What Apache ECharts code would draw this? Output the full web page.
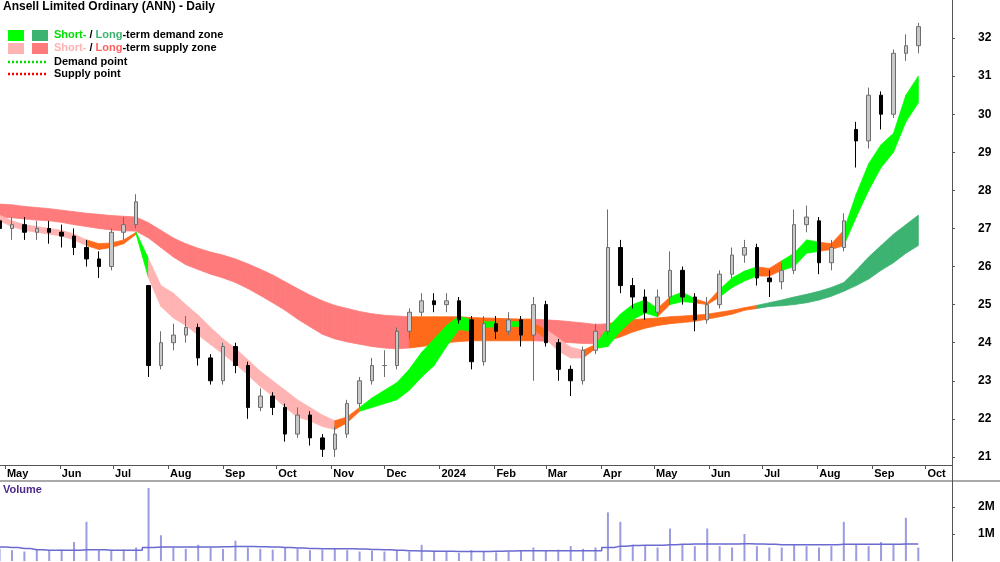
<!DOCTYPE html>
<html><head><meta charset="utf-8">
<script src="https://cdn.jsdelivr.net/npm/echarts@6/dist/echarts.min.js"></script>
<style>html,body{margin:0;padding:0;background:#fff}#c{width:1000px;height:562px}</style>
</head><body><div id="c"></div>
<script>
// weekly candles: [open, close, low, high]
const ohlc = [
[27.2,27.0,26.8,27.4],[27.0,27.1,26.7,27.3],[27.1,26.9,26.7,27.3],[26.9,27.0,26.7,27.2],[27.0,26.9,26.6,27.2],
[26.9,26.8,26.5,27.1],[26.8,26.5,26.3,27.0],[26.5,26.2,26.0,26.7],[26.2,26.0,25.7,26.4],[26.0,26.9,25.9,27.0],
[26.9,27.1,26.7,27.3],[27.1,27.7,27.0,27.9],[25.5,23.4,23.1,25.5],[23.4,24.0,23.3,24.3],[24.0,24.2,23.8,24.5],
[24.2,24.4,24.0,24.7],[24.4,23.6,23.4,24.5],[23.6,23.0,22.9,23.7],[23.0,23.9,22.9,24.0],[23.9,23.4,23.2,24.0],
[23.4,22.3,22.0,23.5],[22.3,22.6,22.2,22.8],[22.6,22.3,22.1,22.7],[22.3,21.6,21.4,22.4],[21.6,22.1,21.5,22.3],
[22.1,21.5,21.3,22.2],[21.5,21.2,21.0,21.6],[21.2,21.6,21.0,21.8],[21.6,22.4,21.5,22.5],[22.4,23.0,22.3,23.1],
[23.0,23.4,22.9,23.6],[23.4,23.4,23.1,23.8],[23.4,24.3,23.3,24.4],[24.3,24.8,24.1,24.9],[24.8,25.1,24.7,25.3],
[25.1,25.0,24.8,25.3],[25.0,25.1,24.8,25.3],[25.1,24.6,24.5,25.2],[24.6,23.5,23.3,24.7],[23.5,24.5,23.4,24.7],
[24.5,24.3,24.1,24.7],[24.3,24.6,24.2,24.8],[24.6,24.2,23.9,24.7],[24.2,25.0,23.0,25.2],[25.0,24.0,23.9,25.1],
[24.0,23.3,23.0,24.1],[23.3,23.0,22.6,23.4],[23.0,23.8,22.9,23.9],[23.8,24.3,23.7,24.5],[24.3,26.5,24.2,27.5],
[26.5,25.5,25.3,26.7],[25.5,25.2,24.9,25.7],[25.2,24.8,24.6,25.4],[24.8,25.2,24.7,25.4],[25.2,25.9,25.0,26.4],
[25.9,25.2,25.0,26.0],[25.2,24.6,24.3,25.3],[24.6,25.0,24.5,25.2],[25.0,25.8,24.9,25.9],[25.8,26.3,25.7,26.5],
[26.3,26.5,26.1,26.7],[26.5,25.7,25.5,26.6],[25.7,25.6,25.2,25.9],[25.6,25.9,25.4,26.1],[25.9,27.1,25.8,27.5],
[27.1,27.3,26.9,27.6],[27.2,26.1,25.8,27.3],[26.1,26.5,25.9,26.7],[26.5,27.2,26.4,27.4],[29.6,29.3,28.6,29.8],
[29.3,30.5,29.1,30.7],[30.5,30.0,29.6,30.6],[30.0,31.6,29.9,31.7],[31.6,31.8,31.4,32.1],[31.8,32.3,31.6,32.4]
];
// long-term zone [high, low]
const longHi = [27.64,27.62,27.58,27.55,27.52,27.48,27.44,27.4,27.37,27.34,27.32,27.3,27.15,26.95,26.75,26.6,26.48,26.38,26.3,26.2,26.07,25.93,25.78,25.6,25.42,25.25,25.1,24.98,24.9,24.82,24.76,24.72,24.7,24.68,24.68,24.68,24.68,24.68,24.66,24.65,24.64,24.63,24.62,24.62,24.6,24.58,24.55,24.52,24.48,24.5,24.55,24.6,24.63,24.65,24.68,24.7,24.72,24.75,24.8,24.85,24.92,24.98,25.05,25.12,25.2,25.27,25.35,25.45,25.58,25.9,26.25,26.55,26.85,27.1,27.35];
const longLo = [27.3,27.28,27.25,27.22,27.2,27.16,27.1,27.05,27.0,26.96,26.94,26.93,26.75,26.5,26.25,26.05,25.92,25.8,25.7,25.58,25.42,25.24,25.05,24.85,24.62,24.42,24.22,24.1,24.02,23.96,23.9,23.86,23.84,23.86,23.9,23.95,24.0,24.03,24.05,24.05,24.05,24.05,24.05,24.05,24.04,24.02,24.0,23.98,23.97,24.05,24.15,24.28,24.38,24.45,24.5,24.53,24.56,24.62,24.68,24.75,24.85,24.9,24.95,24.97,25.0,25.05,25.12,25.22,25.35,25.5,25.67,25.9,26.1,26.35,26.55];
const longState = "RRRRRRRRRRRRRRRRRRRRRRRRRRRRRRRRROOOOOOOOOORRRRRROOOOOOOOOOOODDDDDDDDDDDDDD";
// short-term zone [high, low]
const shortHi = [27.35,27.2,27.1,27.05,27.0,26.95,26.85,26.7,26.6,26.62,26.7,26.9,26.2,25.5,25.3,25.0,24.72,24.4,24.1,23.85,23.55,23.25,23.0,22.75,22.5,22.3,22.1,21.95,22.05,22.3,22.55,22.75,22.95,23.3,23.75,24.1,24.45,24.7,24.6,24.55,24.55,24.55,24.55,24.5,24.35,24.12,23.88,23.8,23.95,24.4,24.75,25.0,25.12,24.9,25.2,25.33,25.15,25.05,25.4,25.7,25.88,25.99,25.95,26.15,26.35,26.7,26.64,26.6,26.95,27.9,28.7,29.2,29.5,30.5,31.0];
const shortLo = [27.2,27.05,26.95,26.9,26.85,26.8,26.7,26.55,26.45,26.5,26.6,26.85,25.7,24.95,24.65,24.45,24.2,23.95,23.7,23.45,23.15,22.85,22.6,22.3,22.05,21.95,21.8,21.72,21.9,22.2,22.3,22.4,22.5,22.75,23.1,23.4,23.9,24.35,24.3,24.4,24.42,24.43,24.42,24.35,24.1,23.78,23.6,23.6,23.85,23.9,24.3,24.6,24.78,24.68,25.0,25.08,25.05,25.0,25.2,25.45,25.62,25.75,25.75,25.9,26.0,26.35,26.4,26.45,26.55,27.3,28.0,28.6,29.0,29.8,30.3];
const shortState = "PPPPPPPOOOOGPPPPPPPPPPPPPPPOOGGGGGGGGGOGOGOOPPPOGGGGGOGGOOGGGOOGGGOOGGGGGGG";
// weekly volume and its average (millions)
const volume = [0.45,0.4,0.35,0.45,0.4,0.42,0.7,1.45,0.4,0.38,0.42,0.5,2.7,0.95,0.5,0.45,0.6,0.5,0.45,0.75,0.5,0.45,0.42,0.48,0.45,0.4,0.42,0.45,0.4,0.35,0.38,0.35,0.4,0.35,0.6,0.38,0.35,0.3,0.4,0.35,0.32,0.35,0.38,0.5,0.4,0.42,0.55,0.45,0.5,1.8,1.45,0.6,0.55,0.5,1.2,0.6,0.55,1.2,0.55,0.5,1.0,0.55,0.5,0.5,0.6,0.55,0.5,0.55,1.45,0.6,0.55,0.7,0.6,1.6,0.5];
const volAvg = [0.52,0.5,0.46,0.42,0.4,0.4,0.4,0.42,0.42,0.4,0.4,0.4,0.5,0.52,0.52,0.52,0.52,0.52,0.53,0.54,0.54,0.53,0.52,0.5,0.48,0.46,0.45,0.45,0.45,0.44,0.43,0.42,0.4,0.38,0.37,0.36,0.36,0.35,0.35,0.35,0.36,0.37,0.38,0.38,0.38,0.38,0.38,0.38,0.38,0.5,0.55,0.57,0.58,0.58,0.6,0.62,0.63,0.63,0.63,0.63,0.64,0.63,0.62,0.6,0.6,0.6,0.6,0.6,0.62,0.62,0.62,0.62,0.62,0.63,0.63];
const monthTicks = [[2023,4],[2023,5],[2023,6],[2023,7],[2023,8],[2023,9],[2023,10],[2023,11],[2024,0],[2024,1],[2024,2],[2024,3],[2024,4],[2024,5],[2024,6],[2024,7],[2024,8],[2024,9]];
const monthNames = ['2024','Feb','Mar','Apr','May','Jun','Jul','Aug','Sep','Oct','Nov','Dec'];
const priceTicks = [21,22,23,24,25,26,27,28,29,30,31,32];
const volTicks = [1,2];

const DAY = 864e5;
const start = Date.UTC(2023,3,28);
const dates = ohlc.map((_, i) => start + i*7*DAY);
const tmin = Date.UTC(2023,3,28,6), tmax = Date.UTC(2024,9,16);
const tickVals = monthTicks.map(m=>Date.UTC(m[0],m[1],1));
const colors = {R:'#ff7b7b',O:'#ff6a1a',D:'#3cb371',P:'#ffb3b3',G:'#00ff00'};

function bandData(hi, lo, st){
  const out=[];
  for(let i=0;i<hi.length-1;i++) out.push([dates[i],lo[i],hi[i],dates[i+1],lo[i+1],hi[i+1],'RODPG'.indexOf(st[i])]);
  return out;
}
function renderBand(params, api){
  const p=[api.coord([api.value(0),api.value(1)]),api.coord([api.value(3),api.value(4)]),
           api.coord([api.value(3),api.value(5)]),api.coord([api.value(0),api.value(2)])];
  const c=colors['RODPG'[api.value(6)]];
  return {type:'polygon',shape:{points:p},style:{fill:c,stroke:c,lineWidth:0.8}};
}
const chart = echarts.init(document.getElementById('c'));
const ax = {type:'value',min:tmin,max:tmax,axisLine:{show:false},axisTick:{show:false},axisLabel:{show:false},splitLine:{show:false}};
const lblStyle = {color:'#000',fontWeight:'bold',fontSize:12,fontFamily:'Liberation Sans'};
chart.setOption({
  animation:false,
  grid:[{left:0,right:48,top:0,height:495},{left:0,right:48,top:465,height:0},{left:0,right:48,top:481,height:80}],
  xAxis:[Object.assign({gridIndex:0},ax),
    {gridIndex:1,type:'value',min:tmin,max:tmax,splitLine:{show:false},
     axisLine:{show:true,lineStyle:{color:'#555'}},
     axisTick:{show:true,length:4,lineStyle:{color:'#555'},customValues:tickVals},
     axisLabel:{show:true,customValues:tickVals,align:'left',margin:3,padding:[0,0,0,2],
       color:'#000',fontWeight:'bold',fontSize:11,fontFamily:'Liberation Sans',
       formatter:v=>monthNames[new Date(v).getUTCMonth()]}},
    Object.assign({gridIndex:2},ax)],
  yAxis:[{gridIndex:0,type:'value',position:'right',offset:0,min:20,max:33,splitLine:{show:false},
     axisLine:{show:true,lineStyle:{color:'#555'}},axisTick:{show:true,length:3,lineStyle:{color:'#555'},customValues:priceTicks},
     axisLabel:Object.assign({margin:26,customValues:priceTicks},lblStyle)},
    {gridIndex:1,type:'value',show:false},
    {gridIndex:2,type:'value',position:'right',offset:0,min:0,max:2.96,splitLine:{show:false},
     axisLine:{show:true,lineStyle:{color:'#555'}},axisTick:{show:true,length:3,lineStyle:{color:'#555'},customValues:volTicks},
     axisLabel:Object.assign({margin:26,customValues:volTicks,formatter:v=>v+'M'},lblStyle)}],
  series:[
    {type:'custom',xAxisIndex:0,yAxisIndex:0,renderItem:renderBand,data:bandData(longHi,longLo,longState),encode:{x:[0,3],y:[1,2,4,5]},z:1},
    {type:'custom',xAxisIndex:0,yAxisIndex:0,renderItem:renderBand,data:bandData(shortHi,shortLo,shortState),encode:{x:[0,3],y:[1,2,4,5]},z:2},
    {type:'candlestick',xAxisIndex:0,yAxisIndex:0,barWidth:4,z:3,
     data:ohlc.map((d,i)=>[dates[i],d[0],d[1],d[2],d[3]]),
     itemStyle:{color:'#c8c8c8',color0:'#000',borderColor:'#6e6e6e',borderColor0:'#000',borderWidth:1}},
    {type:'bar',xAxisIndex:2,yAxisIndex:2,barWidth:2,data:volume.map((v,i)=>[dates[i],v]),itemStyle:{color:'#9b9be0'}},
    {type:'line',xAxisIndex:2,yAxisIndex:2,showSymbol:false,step:'middle',data:volAvg.map((v,i)=>[dates[i],v]),lineStyle:{color:'#6a6ad0',width:1.5}}
  ],
  graphic:[
    {type:'text',x:3,y:1,style:{text:'Ansell Limited Ordinary (ANN) - Daily',font:'bold 12px "Liberation Sans"',fill:'#000'}},
    {type:'rect',shape:{x:8,y:30,width:16,height:11},style:{fill:'#00ff00'}},
    {type:'rect',shape:{x:32,y:30,width:16,height:11},style:{fill:'#3cb371'}},
    {type:'rect',shape:{x:8,y:43,width:16,height:11},style:{fill:'#ffb3b3'}},
    {type:'rect',shape:{x:32,y:43,width:16,height:11},style:{fill:'#ff7b7b'}},
    {type:'text',x:54,y:29,style:{text:'{g|Short-} / {d|Long}-term demand zone',font:'bold 11px "Liberation Sans"',fill:'#000',
      rich:{g:{fill:'#00e000',font:'bold 11px "Liberation Sans"'},d:{fill:'#3cb371',font:'bold 11px "Liberation Sans"'}}}},
    {type:'text',x:54,y:42,style:{text:'{p|Short-} / {r|Long}-term supply zone',font:'bold 11px "Liberation Sans"',fill:'#000',
      rich:{p:{fill:'#ffb3b3',font:'bold 11px "Liberation Sans"'},r:{fill:'#ff6060',font:'bold 11px "Liberation Sans"'}}}},
    {type:'line',shape:{x1:8,y1:62,x2:48,y2:62},style:{stroke:'#00dd00',lineWidth:2.5,lineDash:[2,2]}},
    {type:'line',shape:{x1:8,y1:74,x2:48,y2:74},style:{stroke:'#ff0000',lineWidth:2.5,lineDash:[2,2]}},
    {type:'text',x:54,y:56,style:{text:'Demand point',font:'bold 11px "Liberation Sans"',fill:'#000'}},
    {type:'text',x:54,y:68,style:{text:'Supply point',font:'bold 11px "Liberation Sans"',fill:'#000'}},
    {type:'line',shape:{x1:0,y1:481,x2:1000,y2:481},style:{stroke:'#555',lineWidth:1}},
    {type:'text',x:3,y:484,style:{text:'Volume',font:'bold 11px "Liberation Sans"',fill:'#4b2a8a'}}
  ]
});
</script></body></html>
